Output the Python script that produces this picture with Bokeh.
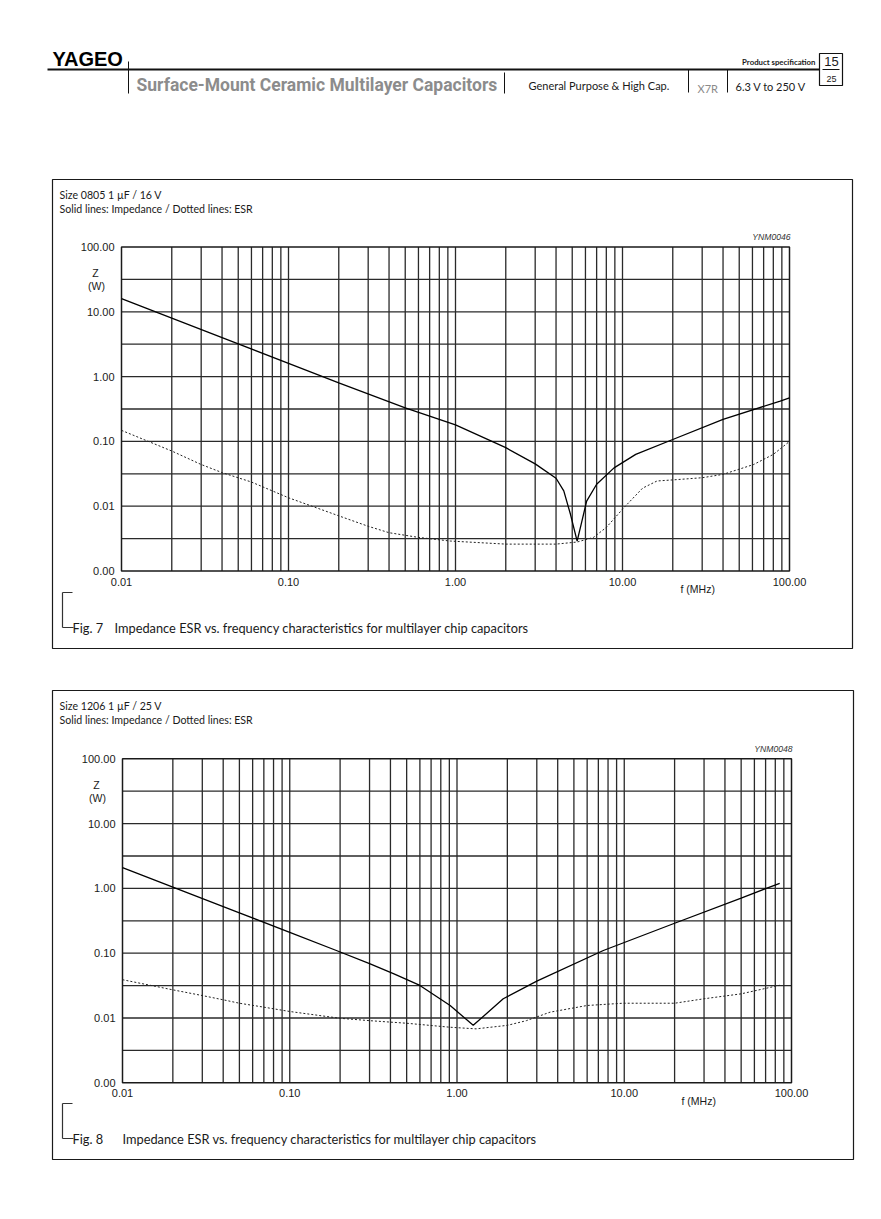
import math
from bokeh.plotting import figure
from bokeh.models import Range1d, LogScale, Label
from bokeh.core.properties import value
from bokeh.embed import file_html
from bokeh.resources import INLINE

# ---------------- data ----------------
# Fig. 7 : Size 0805 1 uF / 16 V
fig7_z_freq = [0.01, 0.02, 0.05, 0.1, 0.2, 0.5, 1.0, 2.0, 3.0, 4.0, 4.45, 4.88, 5.35,
               5.65, 6.1, 7.0, 8.9, 12.0, 20.0, 40.0, 88.0, 100.0]
fig7_z = [16.0, 8.0, 3.2, 1.6, 0.8, 0.33, 0.18, 0.08, 0.045, 0.027, 0.0172, 0.0075, 0.0029,
          0.0052, 0.012, 0.0218, 0.039, 0.063, 0.107, 0.218, 0.42, 0.47]
fig7_esr_freq = [0.01, 0.02, 0.03, 0.04, 0.06, 0.1, 0.2, 0.3, 0.4, 0.6, 0.93, 2.0, 4.0,
                 5.35, 6.7, 8.0, 10.2, 13.2, 16.1, 19.8, 30.0, 40.0, 61.0, 80.0, 100.0]
fig7_esr = [0.148, 0.071, 0.044, 0.033, 0.0236, 0.0135, 0.0071, 0.0049, 0.0039, 0.0033, 0.0029,
            0.0026, 0.0026, 0.0028, 0.0033, 0.0047, 0.0095, 0.019, 0.0245, 0.0254, 0.0275,
            0.031, 0.044, 0.063, 0.10]

# Fig. 8 : Size 1206 1 uF / 25 V
fig8_z_freq = [0.01, 0.02, 0.05, 0.1, 0.19, 0.3, 0.42, 0.6, 0.91, 1.25, 1.89, 3.0, 7.5,
               20.0, 50.0, 85.0]
fig8_z = [2.1, 1.05, 0.42, 0.21, 0.11, 0.069, 0.048, 0.0318, 0.0156, 0.0077, 0.0198, 0.037,
          0.11, 0.29, 0.71, 1.2]
fig8_esr_freq = [0.01, 0.02, 0.03, 0.04, 0.05, 0.07, 0.1, 0.2, 0.3, 0.5, 0.91, 1.3, 2.0,
                 2.6, 3.6, 6.0, 9.8, 20.0, 30.0, 50.0, 85.0]
fig8_esr = [0.039, 0.0272, 0.0222, 0.0191, 0.0169, 0.0147, 0.0126, 0.0099, 0.0091, 0.0083,
            0.0072, 0.0068, 0.0077, 0.0091, 0.0123, 0.0156, 0.0169, 0.0169, 0.0198, 0.0236,
            0.032]

x_major_ticks = [0.01, 0.1, 1.0, 10.0, 100.0]
y_major_ticks = [0.001, 0.01, 0.1, 1.0, 10.0, 100.0]
x_grid_ticks = [m * 10.0 ** e for e in range(-2, 2) for m in range(2, 10)] + [0.1, 1.0, 10.0]
y_grid_ticks = [10.0 ** (k / 2.0) for k in range(-5, 4)]

W, H = 881, 1219
TEXT_FONT = "Lato"
NUM_FONT = "Liberation Sans"
INK = "#1a1a1a"


def log_range(v0, p0, v1, p1, start_px, end_px):
    """Log range whose values v0/v1 fall on page pixels p0/p1."""
    k = (math.log10(v1) - math.log10(v0)) / (p1 - p0)
    f = lambda px: 10 ** (math.log10(v0) + (px - p0) * k)
    return Range1d(f(start_px), f(end_px))


# chart placement on the page (pixels)
CH = {
    "c7": dict(xl=121.0, xr=789.0, yt=246.5, yb=570.5),
    "c8": dict(xl=122.0, xr=791.0, yt=758.3, yb=1082.3),
}
extra_x, extra_y, sx, sy = {}, {}, {}, {}
for key, c in CH.items():
    extra_x[key] = log_range(0.01, c["xl"], 100.0, c["xr"], 0, W)
    extra_y[key] = log_range(0.001, c["yb"], 100.0, c["yt"], H, 0)
    sx[key] = LogScale()
    sy[key] = LogScale()

p = figure(width=W, height=H, x_range=Range1d(0, W), y_range=Range1d(H, 0),
           x_axis_location=None, y_axis_location=None, min_border=0,
           extra_x_ranges=extra_x, extra_y_ranges=extra_y,
           extra_x_scales=sx, extra_y_scales=sy,
           toolbar_location=None, output_backend="svg")
p.grid.visible = False
p.outline_line_color = None
p.background_fill_color = "white"
p.border_fill_color = "white"


def label(x, y, text, size, font=TEXT_FONT, align="left", color=INK, style="normal",
          baseline="middle"):
    p.add_layout(Label(x=x, y=y, text=text, text_font=font, text_font_size=size,
                       text_align=align, text_baseline=baseline, text_color=color,
                       text_font_style=style))


# ---------------- page header ----------------
p.segment(x0=[47, 128, 504, 688, 727, 822], y0=[69, 61, 72, 69, 69, 69],
          x1=[819, 128, 504, 688, 727, 839], y1=[69, 93, 93, 92, 92, 69],
          line_color="#111111", line_width=[2, 1, 1, 1, 1, 1])
p.quad(left=[819], right=[842], top=[53], bottom=[85], fill_alpha=0,
       line_color="#111111", line_width=1.2)
label(52, 58, "YAGEO", "20px", font=NUM_FONT, style="bold", color="#000000")
label(136, 84, "Surface-Mount Ceramic Multilayer Capacitors", "17.5px",
      font="'Liberation Sans Narrow', Roboto", style="bold", color="#8c8c8c")
label(528, 85, "General Purpose & High Cap.", "11px")
label(697, 88, "X7R", "11px", color="#8a8a8a")
label(735, 86, "6.3 V to 250 V", "11px")
label(815, 61, "Product specification", "7.8px", align="right", style="bold")
label(831, 61, "15", "13px", font=NUM_FONT, align="center")
label(831, 78, "25", "9px", font=NUM_FONT, align="center")


# ---------------- charts ----------------
def chart(key, box, zf, z, ef, e, title, code, fig_no, caption_x):
    c = CH[key]
    rn = dict(x_range_name=key, y_range_name=key)
    bl, br, bt, bb = box

    # surrounding box
    p.quad(left=[bl], right=[br], top=[bt], bottom=[bb], fill_alpha=0,
           line_color=INK, line_width=1.2)

    # grid (log grid through the chart's log scales)
    n = len(x_grid_ticks)
    p.segment(x0=x_grid_ticks, x1=x_grid_ticks, y0=[0.001] * n, y1=[100.0] * n,
              line_color="#2a2a2a", line_width=1.3, **rn)
    m = len(y_grid_ticks)
    p.segment(x0=[0.01] * m, x1=[100.0] * m, y0=y_grid_ticks, y1=y_grid_ticks,
              line_color="#2a2a2a", line_width=1.3, **rn)
    p.quad(left=[0.01], right=[100.0], bottom=[0.001], top=[100.0], fill_alpha=0,
           line_color=INK, line_width=1.5, **rn)

    # tick labels
    p.text(x=x_major_ticks, y=[0.001] * len(x_major_ticks),
           text=["%.2f" % t for t in x_major_ticks], y_offset=6.5,
           text_align="center", text_baseline="top", text_font=value(NUM_FONT),
           text_font_size="11px", text_color=INK, **rn)
    p.text(x=[0.01] * len(y_major_ticks), y=y_major_ticks,
           text=["%.2f" % t for t in y_major_ticks], x_offset=-7,
           text_align="right", text_baseline="middle", text_font=value(NUM_FONT),
           text_font_size="11px", text_color=INK, **rn)

    # curves
    p.line(zf, z, line_color="black", line_width=1.3, **rn)
    p.line(ef, e, line_color="#222222", line_width=1, line_dash="2 2", **rn)

    # texts
    label(bl + 7, bt + 15, title[0], "10.6px")
    label(bl + 7, bt + 29, title[1], "10.6px")
    label(c["xr"] + 1, c["yt"] - 10, code, "8.6px", font=NUM_FONT, align="right",
          color="#333333", style="italic")
    label(c["xl"] - 26, c["yt"] + 26, "Z", "10.5px", font=NUM_FONT, align="center")
    label(c["xl"] - 25, c["yt"] + 39, "(W)", "10.5px", font=NUM_FONT, align="center")
    label(c["xl"] + 559, c["yb"] + 18, "f  (MHz)", "10.5px", font=NUM_FONT)

    # caption with bracket
    cy = bb - 21
    p.segment(x0=[bl + 10, bl + 10, bl + 10], y0=[cy - 35, cy - 35, cy],
              x1=[bl + 10, bl + 20, bl + 21], y1=[cy, cy - 35, cy],
              line_color="#333333", line_width=1.2)
    label(bl + 20, cy, fig_no, "12.8px")
    label(caption_x, cy,
          "Impedance ESR vs. frequency characteristics for multilayer chip capacitors",
          "12.8px")


chart("c7", (52, 852, 179, 648), fig7_z_freq, fig7_z, fig7_esr_freq, fig7_esr,
      ("Size 0805 1 µF / 16 V", "Solid lines: Impedance / Dotted lines: ESR"),
      "YNM0046", "Fig. 7", 114)
chart("c8", (52, 853, 690, 1159), fig8_z_freq, fig8_z, fig8_esr_freq, fig8_esr,
      ("Size 1206 1 µF / 25 V", "Solid lines: Impedance / Dotted lines: ESR"),
      "YNM0048", "Fig. 8", 122)

open("out.html", "w").write(file_html(p, INLINE))
